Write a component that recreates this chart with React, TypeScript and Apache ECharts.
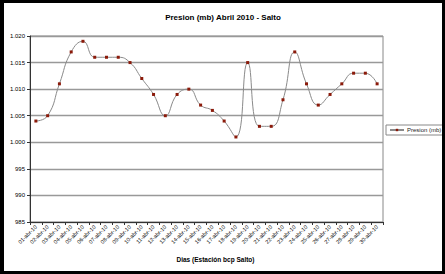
import React, { useEffect, useRef } from "react";
import * as echarts from "echarts";

const days: string[] = [
  "01-abr-10", "02-abr-10", "03-abr-10", "04-abr-10", "05-abr-10", "06-abr-10",
  "07-abr-10", "08-abr-10", "09-abr-10", "10-abr-10", "11-abr-10", "12-abr-10",
  "13-abr-10", "14-abr-10", "15-abr-10", "16-abr-10", "17-abr-10", "18-abr-10",
  "19-abr-10", "20-abr-10", "21-abr-10", "22-abr-10", "23-abr-10", "24-abr-10",
  "25-abr-10", "26-abr-10", "27-abr-10", "28-abr-10", "29-abr-10", "30-abr-10",
];

const presion: number[] = [
  1004, 1005, 1011, 1017, 1019, 1016, 1016, 1016, 1015, 1012,
  1009, 1005, 1009, 1010, 1007, 1006, 1004, 1001, 1015, 1003,
  1003, 1008, 1017, 1011, 1007, 1009, 1011, 1013, 1013, 1011,
];

const title = "Presion (mb) Abril 2010 - Salto";
const seriesName = "Presion (mb)";
const xAxisTitle = "Dias (Estación bcp Salto)";

const FONT = "'Liberation Sans', Arial, sans-serif";

function fmtY(v: number): string {
  if (v >= 1000) {
    const s = String(v);
    return s.slice(0, s.length - 3) + "." + s.slice(s.length - 3);
  }
  return String(v);
}

export default function App() {
  const ref = useRef<HTMLDivElement>(null);
  useEffect(() => {
    if (!ref.current) return;
    const chart = echarts.init(ref.current, undefined, { renderer: "svg" });
    chart.setOption({
      animation: false,
      backgroundColor: "#ffffff",
      title: {
        text: title,
        left: "center",
        top: 5,
        textStyle: { fontFamily: FONT, fontSize: 8, fontWeight: "bold", color: "#000" },
      },
      grid: {
        left: 26,
        top: 33,
        right: 59,
        bottom: 49,
        show: true,
        borderColor: "#888",
        borderWidth: 1,
      },
      legend: {
        left: 382,
        top: 122,
        orient: "vertical",
        padding: [2, 3],
        itemGap: 2,
        itemWidth: 14,
        itemHeight: 3,
        borderColor: "#888",
        borderWidth: 1,
        textStyle: { fontFamily: FONT, fontSize: 6, color: "#222", padding: [0, 0, 0, -2] },
        data: [seriesName],
      },
      xAxis: {
        type: "category",
        data: days,
        boundaryGap: true,
        name: xAxisTitle,
        nameLocation: "middle",
        nameGap: 34,
        nameTextStyle: {
          fontFamily: FONT,
          fontSize: 6.5,
          fontWeight: "bold",
          color: "#000",
          padding: [0, 0, 0, 18],
        },
        axisLine: { lineStyle: { color: "#333", width: 1 } },
        axisTick: { show: true, length: 3, lineStyle: { color: "#333" } },
        axisLabel: {
          interval: 0,
          rotate: 45,
          fontFamily: FONT,
          fontSize: 5.5,
          color: "#000",
          margin: 4,
        },
        splitLine: { show: false },
      },
      yAxis: {
        type: "value",
        min: 985,
        max: 1020,
        interval: 5,
        axisLine: { show: true, lineStyle: { color: "#333", width: 1 } },
        axisTick: { show: true, length: 3, lineStyle: { color: "#333" } },
        axisLabel: {
          fontFamily: FONT,
          fontSize: 6,
          color: "#000",
          margin: 5,
          formatter: (v: number) => fmtY(v),
        },
        splitLine: { show: true, lineStyle: { color: "#999", width: 1.3 } },
      },
      series: [
        {
          name: seriesName,
          type: "line",
          data: presion,
          smooth: 0.5,
          symbol: "rect",
          symbolSize: 3,
          showSymbol: true,
          lineStyle: { color: "#8a8a8a", width: 1 },
          itemStyle: { color: "#8b1a0a" },
        },
      ],
    });
    return () => chart.dispose();
  }, []);

  return (
    <div
      style={{
        position: "fixed",
        left: 0,
        top: 0,
        width: 445,
        height: 274,
        background: "#000",
      }}
    >
      <div
        ref={ref}
        style={{ position: "absolute", left: 4, top: 3, width: 438, height: 268 }}
      />
    </div>
  );
}
